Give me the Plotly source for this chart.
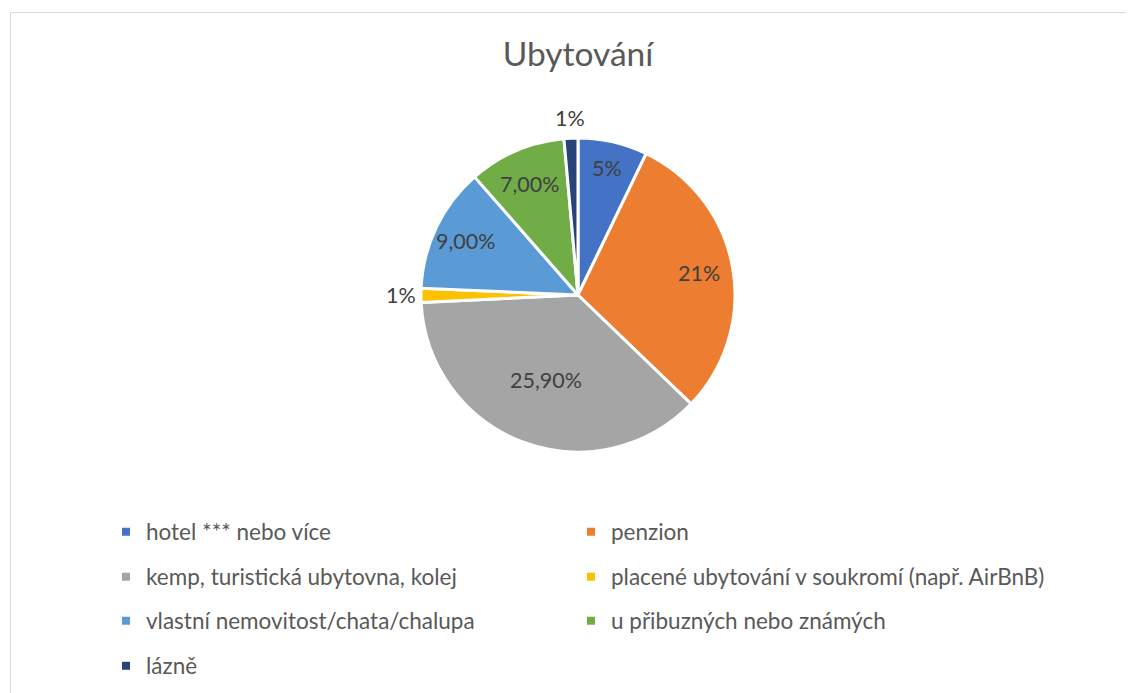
import math
import plotly.graph_objects as go

# page has an 8px body margin; the figure is sized so it ends at the window edge
OFF = 8
PAGE_W, PAGE_H = 1134, 693
W, H = PAGE_W - OFF, PAGE_H - OFF

title_text = "Ubytování"
categories = [
    "hotel *** nebo více",
    "penzion",
    "kemp, turistická ubytovna, kolej",
    "placené ubytování v soukromí (např. AirBnB)",
    "vlastní nemovitost/chata/chalupa",
    "u přibuzných nebo známých",
    "lázně",
]
values = [5, 21, 25.9, 1, 9, 7, 1]
value_labels = ["5%", "21%", "25,90%", "1%", "9,00%", "7,00%", "1%"]
colors = ["#4472C4", "#ED7D31", "#A5A5A5", "#FFC000", "#5B9BD5", "#70AD47", "#264478"]

# label distance from centre, as a fraction of the radius (style)
label_radius = [0.83, 0.78, 0.58, 1.13, 0.79, 0.77, 1.13]

FONT = "Lato"


def px_x(p):
    return (p - OFF) / W


def px_y(p):
    return 1 - (p - OFF) / H


# pie geometry (page pixels)
cx, cy, r = 578, 295, 157

fig = go.Figure()
fig.add_trace(go.Pie(
    labels=categories,
    values=values,
    text=value_labels,
    textinfo="none",
    sort=False,
    direction="clockwise",
    rotation=0,
    marker=dict(colors=colors, line=dict(color="white", width=3)),
    domain=dict(x=[px_x(cx - r), px_x(cx + r)], y=[px_y(cy + r), px_y(cy - r)]),
    showlegend=False,
    hovertemplate="%{label}: %{text}<extra></extra>",
))

# data labels placed on each slice's bisector
total = sum(values)
annotations = []
cum = 0.0
for v, lab, f in zip(values, value_labels, label_radius):
    mid = (cum + v / 2) / total * 2 * math.pi
    cum += v
    lx = cx + f * r * math.sin(mid)
    ly = cy - f * r * math.cos(mid)
    annotations.append(dict(
        x=px_x(lx), y=px_y(ly), xref="paper", yref="paper",
        text=lab, showarrow=False, xanchor="center", yanchor="middle",
        font=dict(family=FONT, size=21.5, color="#404040"),
    ))

# legend: two columns, four rows; one legend box per entry
col_x = [106, 571]
row_y = [532, 577, 621, 666]
legend_layouts = {}
for i, name in enumerate(categories):
    lname = "legend" if i == 0 else f"legend{i + 1}"
    fig.add_trace(go.Scatter(
        x=[None], y=[None], mode="markers", name=name,
        marker=dict(symbol="square", size=8, color=colors[i]),
        legend=lname, showlegend=True, hoverinfo="skip",
    ))
    legend_layouts[lname] = dict(
        orientation="h",
        x=px_x(col_x[i % 2]), xanchor="left",
        y=px_y(row_y[i // 2]), yanchor="middle",
        itemwidth=30,
        font=dict(family=FONT, size=22.5, color="#595959"),
        bgcolor="rgba(0,0,0,0)",
        itemclick=False, itemdoubleclick=False,
    )

fig.update_layout(
    width=W, height=H,
    margin=dict(l=0, r=0, t=0, b=0),
    paper_bgcolor="white",
    plot_bgcolor="white",
    title=dict(text=title_text, x=px_x(578), xanchor="center", y=px_y(54), yanchor="middle",
               font=dict(family=FONT, size=33.5, color="#595959")),
    xaxis=dict(visible=False),
    yaxis=dict(visible=False),
    annotations=annotations,
    shapes=[dict(type="rect", xref="paper", yref="paper",
                 x0=px_x(10.5), x1=1.05, y0=-0.05, y1=px_y(12.5),
                 line=dict(color="#D9D9D9", width=1), fillcolor="rgba(0,0,0,0)", layer="below")],
    **legend_layouts,
)

fig.write_html("out.html")
